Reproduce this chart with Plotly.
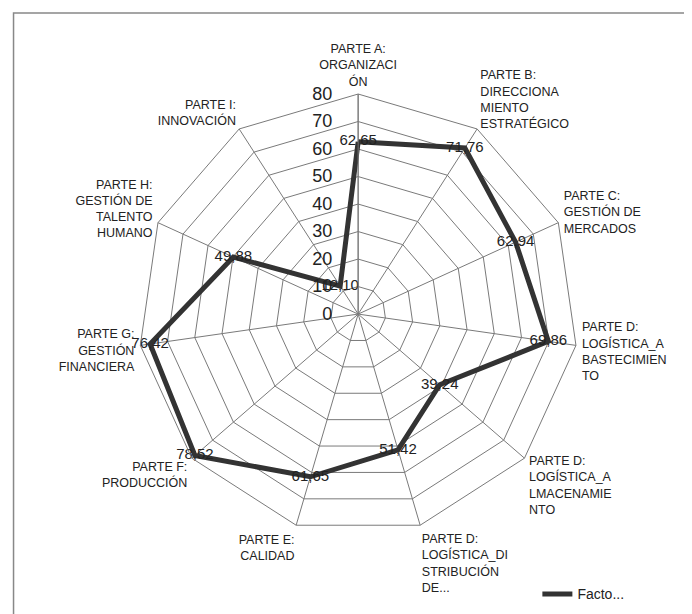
import plotly.graph_objects as go

categories = [
    "PARTE A:<br>ORGANIZACI<br>ÓN",
    "PARTE B:<br>DIRECCIONA<br>MIENTO<br>ESTRATÉGICO",
    "PARTE C:<br>GESTIÓN DE<br>MERCADOS",
    "PARTE D:<br>LOGÍSTICA_A<br>BASTECIMIEN<br>TO",
    "PARTE D:<br>LOGÍSTICA_A<br>LMACENAMIE<br>NTO",
    "PARTE D:<br>LOGÍSTICA_DI<br>STRIBUCIÓN<br>DE...",
    "PARTE E:<br>CALIDAD",
    "PARTE F:<br>PRODUCCIÓN",
    "PARTE G:<br>GESTIÓN<br>FINANCIERA",
    "PARTE H:<br>GESTIÓN DE<br>TALENTO<br>HUMANO",
    "PARTE I:<br>INNOVACIÓN",
]
values = [62.65, 71.76, 62.94, 69.86, 39.24, 51.42, 61.65, 78.52, 76.42, 49.88, 12.10]
value_labels = ["62,65", "71,76", "62,94", "69,86", "39,24", "51,42", "61,65", "78,52", "76,42", "49,88", "12,10"]
series_name = "Facto..."
radial_ticks = [0, 10, 20, 30, 40, 50, 60, 70, 80]

fig = go.Figure()
fig.add_trace(go.Scatterpolar(
    r=values + [values[0]],
    theta=categories + [categories[0]],
    mode="lines",
    line=dict(color="#333333", width=5),
    name=series_name,
    showlegend=True,
))
fig.add_trace(go.Scatterpolar(
    r=values,
    theta=categories,
    mode="text",
    text=value_labels,
    textposition="middle center",
    textfont=dict(family="Liberation Sans", size=15, color="#222222"),
    showlegend=False,
    hoverinfo="skip",
))

grid = "#7a7a7a"
fig.update_layout(
    width=692, height=614,
    margin=dict(l=0, r=0, t=0, b=0),
    paper_bgcolor="white",
    font=dict(family="Liberation Sans", color="#222222"),
    polar=dict(
        domain=dict(x=[0.188, 0.824], y=[0.143, 0.860]),
        gridshape="linear",
        bgcolor="white",
        radialaxis=dict(
            range=[0, 80],
            tickvals=radial_ticks,
            ticktext=[str(t) for t in radial_ticks],
            angle=90,
            tickangle=90,
            side="counterclockwise",
            showline=True,
            linecolor=grid,
            linewidth=1,
            gridcolor=grid,
            gridwidth=1,
            ticks="outside",
            ticklen=19,
            tickcolor="rgba(0,0,0,0)",
            tickfont=dict(size=18, color="#222222"),
        ),
        angularaxis=dict(
            direction="clockwise",
            rotation=90,
            showline=True,
            linecolor=grid,
            linewidth=1,
            gridcolor=grid,
            gridwidth=1,
            ticks="outside",
            ticklen=3,
            tickcolor="rgba(0,0,0,0)",
            tickfont=dict(size=12.5, color="#222222"),
        ),
    ),
    legend=dict(
        x=0.765, y=0.045, xanchor="left", yanchor="middle",
        bgcolor="rgba(0,0,0,0)",
        font=dict(size=14, color="#222222"),
    ),
    shapes=[dict(
        type="rect", xref="paper", yref="paper",
        x0=0.008, y0=0.008, x1=0.992, y1=0.992,
        line=dict(color="#888888", width=1.5),
    )],
)

fig.write_html("out.html")
